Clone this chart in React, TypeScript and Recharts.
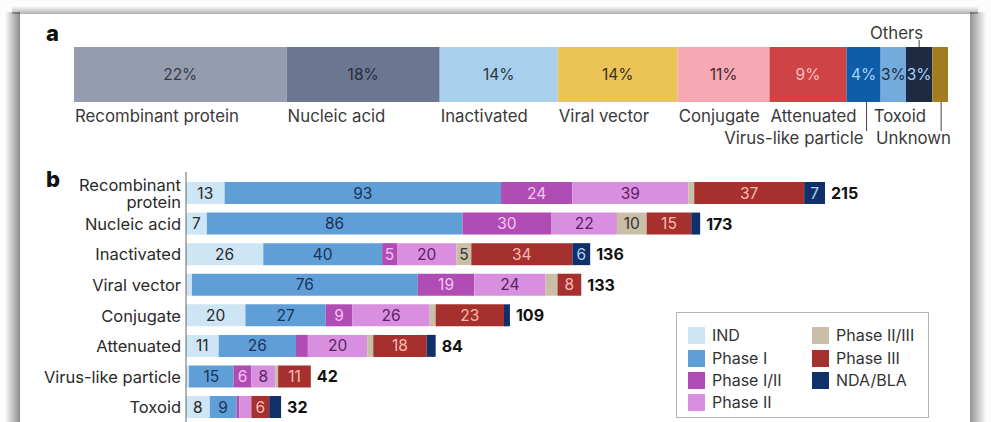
import React from 'react';
import { BarChart, Bar, XAxis, YAxis, LabelList, Legend } from 'recharts';

// ---------- Panel a data ----------
const A_CATEGORIES = ['Recombinant protein', 'Nucleic acid', 'Inactivated', 'Viral vector', 'Conjugate', 'Attenuated', 'Virus-like particle', 'Toxoid', 'Others', 'Unknown'];
const A_SHARES = [24.3, 17.5, 13.5, 13.7, 10.5, 8.8, 3.9, 2.9, 3.0, 1.8];
const A_PCT_LABELS = ['22%', '18%', '14%', '14%', '11%', '9%', '4%', '3%', '3%', ''];
const A_COLORS = ['#959cb0', '#6b7791', '#a8d0ec', '#eac456', '#f6a9b3', '#ce4343', '#0f5ca8', '#73acdc', '#1d2a42', '#a27c20'];
const A_TEXT_COLORS = ['#363a48', '#262c3c', '#2f3540', '#3a3020', '#3a2a2e', '#f8c0c0', '#a9d4f7', '#1d2a42', '#a9d4f7', '#333'];

// ---------- Panel b data ----------
const B_CATEGORIES = ['Recombinant protein', 'Nucleic acid', 'Inactivated', 'Viral vector', 'Conjugate', 'Attenuated', 'Virus-like particle', 'Toxoid'];
const B_TICK_LABELS = [['Recombinant', 'protein'], ['Nucleic acid'], ['Inactivated'], ['Viral vector'], ['Conjugate'], ['Attenuated'], ['Virus-like particle'], ['Toxoid']];
const PHASES = ['IND', 'Phase I', 'Phase I/II', 'Phase II', 'Phase II/III', 'Phase III', 'NDA/BLA'];
const IND = [13, 7, 26, 2, 20, 11, 1, 8];
const PHASE_1 = [93, 86, 40, 76, 27, 26, 15, 9];
const PHASE_1_2 = [24, 30, 5, 19, 9, 4, 6, 1];
const PHASE_2 = [39, 22, 20, 24, 26, 20, 8, 4];
const PHASE_2_3 = [2, 10, 5, 4, 2, 2, 1, 0];
const PHASE_3 = [37, 15, 34, 8, 23, 18, 11, 6];
const NDA_BLA = [7, 3, 6, 0, 2, 3, 0, 4];
const TOTALS = [215, 173, 136, 133, 109, 84, 42, 32];
const PHASE_COLORS = ['#cde5f4', '#5f9ed6', '#b04db5', '#d98fdf', '#c8bfa6', '#a5302d', '#10306a'];
const PHASE_TEXT_COLORS = ['#2a2a2a', '#1a3358', '#f3c6f0', '#5a1f63', '#333333', '#f7bcb4', '#a9d3f5'];

const FONT = 'Inter, "Noto Sans", sans-serif';

const aRow: Record<string, any> = { name: 'all' };
A_SHARES.forEach((v, i) => { aRow['s' + i] = v; });
const aData = [aRow];
const aTotal = A_SHARES.reduce((s, v) => s + v, 0);

const SERIES = [IND, PHASE_1, PHASE_1_2, PHASE_2, PHASE_2_3, PHASE_3, NDA_BLA];
const bData = B_CATEGORIES.map((name, r) => {
  const row: Record<string, any> = { name, total: TOTALS[r] };
  PHASES.forEach((p, k) => { row[p] = SERIES[k][r]; });
  return row;
});

const aLabel = (i: number) => (p: any) => {
  const x = Number(p.x), y = Number(p.y), w = Number(p.width), h = Number(p.height);
  const cx = x + w / 2;
  const bottom = y + h;
  const name = A_CATEGORIES[i];
  const txt = { fontFamily: FONT, fontSize: 16.8, fill: '#3a3a3a' } as any;
  let cat: React.ReactNode = null;
  if (i <= 5) {
    cat = <text x={x + 1} y={bottom + 14} dominantBaseline="central" textAnchor="start" {...txt}>{name}</text>;
  } else if (i === 6) {
    cat = (
      <g>
        <line x1={cx + 3} x2={cx + 3} y1={bottom} y2={bottom + 29} stroke="#444" strokeWidth={1} />
        <text x={cx} y={bottom + 36} dominantBaseline="central" textAnchor="end" {...txt}>{name}</text>
      </g>
    );
  } else if (i === 7) {
    cat = <text x={x - 7} y={bottom + 14} dominantBaseline="central" textAnchor="start" {...txt}>{name}</text>;
  } else if (i === 8) {
    cat = (
      <g>
        <line x1={cx} x2={cx} y1={y - 7} y2={y} stroke="#444" strokeWidth={1} />
        <text x={cx + 4} y={y - 14} dominantBaseline="central" textAnchor="end" {...txt}>{name}</text>
      </g>
    );
  } else {
    cat = (
      <g>
        <line x1={cx + 1} x2={cx + 1} y1={bottom} y2={bottom + 29} stroke="#444" strokeWidth={1} />
        <text x={x + w + 3} y={bottom + 36} dominantBaseline="central" textAnchor="end" {...txt}>{name}</text>
      </g>
    );
  }
  return (
    <g>
      {A_PCT_LABELS[i] ? (
        <text x={cx} y={y + h / 2} dominantBaseline="central" textAnchor="middle" fontFamily={FONT} fontSize={15.5} fill={A_TEXT_COLORS[i]}>{A_PCT_LABELS[i]}</text>
      ) : null}
      {cat}
    </g>
  );
};

const bValueLabel = (k: number) => (p: any) => {
  const v = Number(p.value);
  if (!(v >= 5)) return null;
  const x = Number(p.x), y = Number(p.y), w = Number(p.width), h = Number(p.height);
  return (
    <text x={x + w / 2} y={y + h / 2} dominantBaseline="central" textAnchor="middle" fontFamily={FONT} fontSize={15.5} fill={PHASE_TEXT_COLORS[k]}>{v}</text>
  );
};

const totalLabel = (p: any) => {
  const x = Number(p.x), y = Number(p.y), w = Number(p.width), h = Number(p.height);
  return (
    <text x={x + w + 6} y={y + h / 2} dominantBaseline="central" textAnchor="start" fontFamily={FONT} fontSize={16} fontWeight={700} fill="#111">{p.value}</text>
  );
};

const CategoryTick = (props: any) => {
  const { x, y, payload } = props;
  const lines = B_TICK_LABELS[payload.index] || [String(payload.value)];
  const lh = 17;
  const start = -((lines.length - 1) * lh) / 2;
  return (
    <text x={x} y={y} textAnchor="end" fontFamily={FONT} fontSize={16.5} fill="#2a2a2a">
      {lines.map((l: string, j: number) => (
        <tspan key={j} x={x} y={y + start + j * lh} dominantBaseline="central">{l}</tspan>
      ))}
    </text>
  );
};

const LegendBox = (props: any) => {
  const payload = [...(props.payload || [])]
    .filter((e: any) => PHASES.indexOf(e.value) >= 0)
    .sort((a: any, b: any) => PHASES.indexOf(a.value) - PHASES.indexOf(b.value));
  const rowsTop = [22, 45, 67, 89];
  return (
    <div style={{ position: 'relative', width: 251, height: 104, border: '1px solid #b5b5b5', background: '#fff', fontFamily: FONT, fontSize: 16, color: '#333' }}>
      {payload.map((e: any, j: number) => {
        const col = j < 4 ? 0 : 1;
        const row = j < 4 ? j : j - 4;
        const left = col === 0 ? 11 : 135;
        const cy = rowsTop[row];
        return (
          <div key={j} style={{ position: 'absolute', left, top: cy - 9, height: 18, display: 'flex', alignItems: 'center', whiteSpace: 'nowrap' }}>
            <span style={{ display: 'inline-block', width: 17, height: 17, background: e.color, marginRight: 7 }} />
            <span style={{ lineHeight: '18px' }}>{e.value}</span>
          </div>
        );
      })}
    </div>
  );
};

export default function App() {
  return (
    <div style={{ position: 'absolute', left: 0, top: 0, width: 991, height: 422, overflow: 'hidden', background: '#fcfcfc' }}>
      {/* frame shadow strips */}
      <div style={{ position: 'absolute', left: 5, top: 12, width: 15, height: 420, background: 'linear-gradient(to right, rgba(0,0,0,0), rgba(0,0,0,0.45))' }} />
      <div style={{ position: 'absolute', left: 970, top: 12, width: 16, height: 420, background: 'linear-gradient(to right, rgba(0,0,0,0.42), rgba(0,0,0,0))' }} />
      <div style={{ position: 'absolute', left: 12, top: 6, width: 966, height: 8, background: 'linear-gradient(to bottom, rgba(0,0,0,0), rgba(0,0,0,0.3))' }} />
      <div style={{ position: 'absolute', left: 20, top: 14, width: 950, height: 480, background: '#fff' }} />
      <div style={{ position: 'absolute', left: 46, top: 20, fontFamily: FONT, fontWeight: 800, fontSize: 22, color: '#111' }}>a</div>
      <div style={{ position: 'absolute', left: 46, top: 166, fontFamily: FONT, fontWeight: 800, fontSize: 22, color: '#111' }}>b</div>

      <div style={{ position: 'absolute', left: 0, top: 0 }}>
        <BarChart width={991} height={160} data={aData} layout="vertical" margin={{ top: 47, bottom: 58, left: 74, right: 43 }} barCategoryGap={0}>
          <XAxis type="number" hide domain={[0, aTotal]} />
          <YAxis type="category" dataKey="name" hide width={0} />
          {A_CATEGORIES.map((c, i) => (
            <Bar key={c} dataKey={'s' + i} name={c} stackId="a" fill={A_COLORS[i]} isAnimationActive={false}>
              <LabelList dataKey={'s' + i} content={aLabel(i)} />
            </Bar>
          ))}
        </BarChart>
      </div>

      <div style={{ position: 'absolute', left: 0, top: 0 }}>
        <BarChart width={991} height={430} data={bData} layout="vertical" margin={{ top: 172, bottom: 7.4, left: 0, right: 62 }} barSize={22} barGap={-22}>
          <XAxis type="number" hide domain={[0, 250]} />
          <YAxis type="category" dataKey="name" width={186} axisLine={{ stroke: '#666', strokeWidth: 1 }} tickLine={false} tickSize={0} tickMargin={5} padding={{ top: 6, bottom: 0 }} tick={<CategoryTick />} interval={0} />
          {PHASES.map((p, k) => (
            <Bar key={p} dataKey={p} name={p} stackId="b" fill={PHASE_COLORS[k]} isAnimationActive={false}>
              <LabelList dataKey={p} content={bValueLabel(k)} />
            </Bar>
          ))}
          <Bar dataKey="total" name="Total" fill="transparent" legendType="none" isAnimationActive={false}>
            <LabelList dataKey="total" content={totalLabel} />
          </Bar>
          <Legend layout="horizontal" verticalAlign="middle" align="center" content={<LegendBox />} wrapperStyle={{ position: 'absolute', left: 676, top: 312, width: 253, height: 106, margin: 0 }} />
        </BarChart>
      </div>
    </div>
  );
}
